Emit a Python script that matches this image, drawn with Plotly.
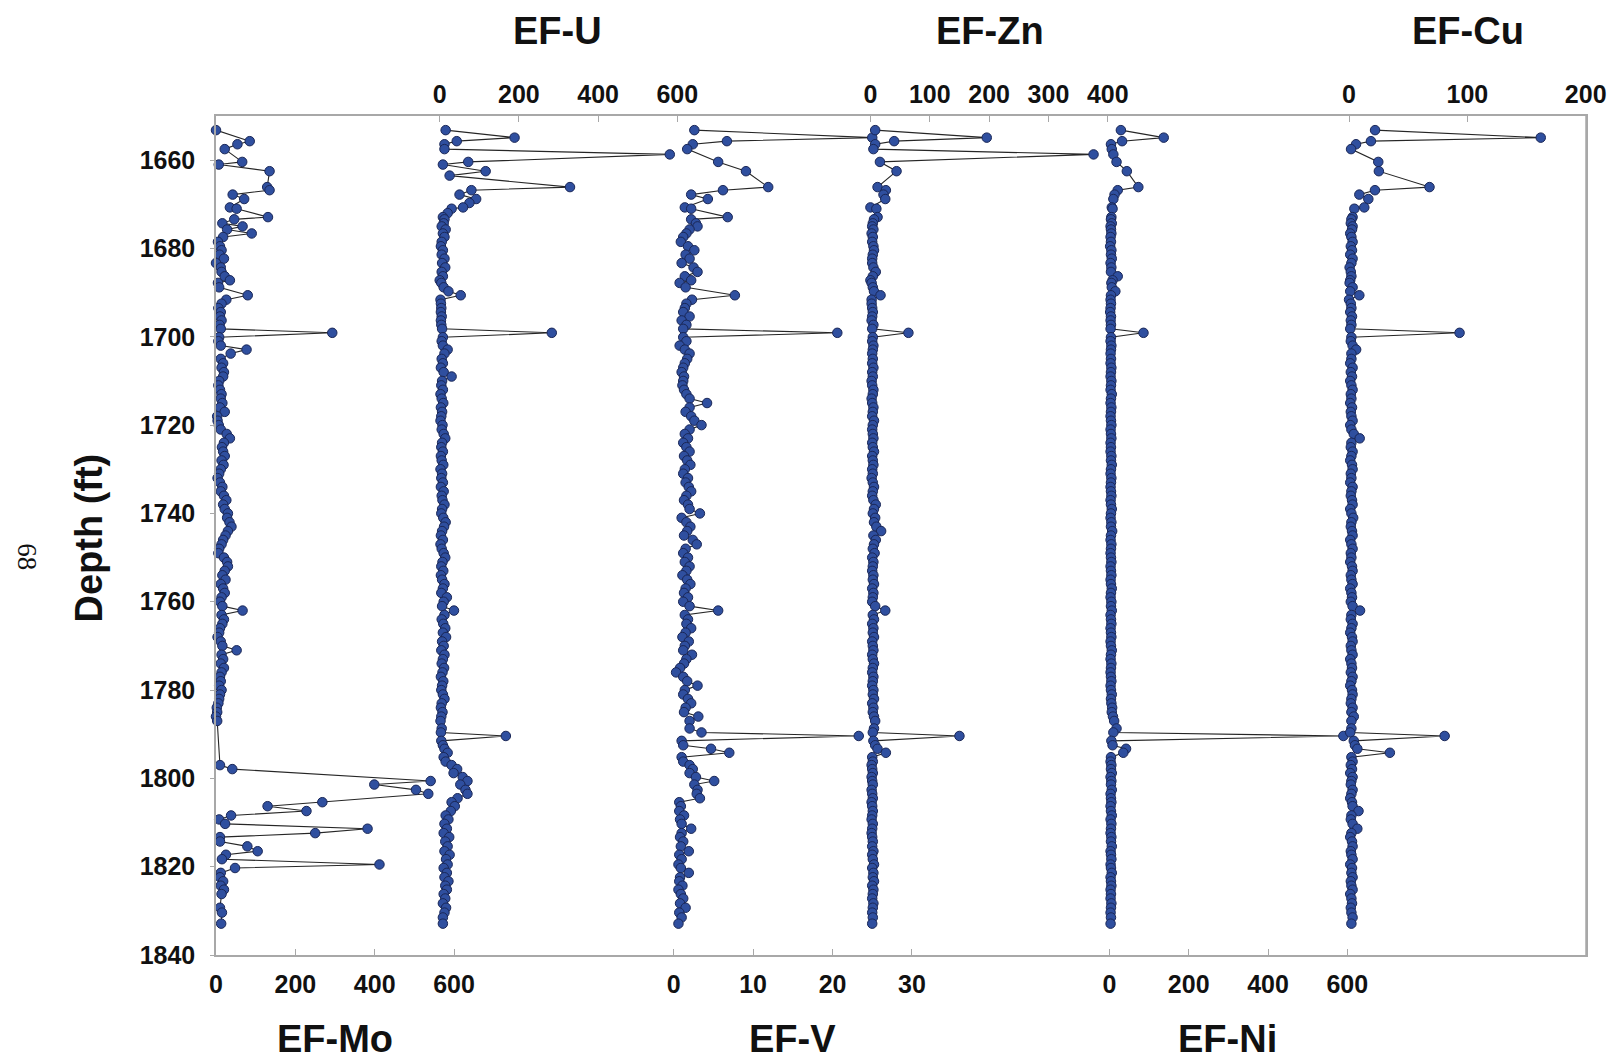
import plotly.graph_objects as go

# ---------------- data ----------------
depth_ft = [
    1653.2, 1654.9, 1655.7, 1656.4, 1657.5, 1658.7, 1660.4, 1661.0, 1662.5, 1663.5,
    1665.0, 1666.1, 1666.8, 1667.8, 1668.8, 1669.7, 1670.7, 1671.0, 1672.0, 1672.9,
    1673.4, 1674.3, 1675.0, 1675.7, 1676.6, 1677.4, 1678.5, 1679.5, 1680.4, 1681.4,
    1682.3, 1683.3, 1684.3, 1685.3, 1686.3, 1687.2, 1687.8, 1688.8, 1689.7, 1690.6,
    1691.6, 1692.5, 1693.5, 1694.4, 1695.4, 1696.3, 1697.3, 1698.2, 1699.1, 1700.1,
    1701.0, 1702.0, 1702.9, 1703.8,
    1705, 1706, 1707, 1708, 1709, 1710, 1711, 1712, 1713, 1714,
    1715, 1716, 1717, 1718, 1719, 1720, 1721, 1722, 1723, 1724,
    1725, 1726, 1727, 1728, 1729, 1730, 1731, 1732, 1733, 1734,
    1735, 1736, 1737, 1738, 1739, 1740, 1741, 1742, 1743, 1744,
    1745, 1746, 1747, 1748, 1749, 1750, 1751, 1752, 1753, 1754,
    1755, 1756, 1757, 1758, 1759, 1760, 1761, 1762, 1763, 1764,
    1765, 1766, 1767, 1768, 1769, 1770, 1771, 1772, 1773, 1774,
    1775, 1776, 1777, 1778, 1779, 1780, 1781, 1782, 1783, 1784,
    1785, 1786, 1787,
    1788.7, 1789.6, 1790.4, 1791.5, 1792.5, 1793.3, 1794.2, 1795.2, 1796.2, 1797.0,
    1797.9, 1798.8, 1799.7, 1800.6, 1801.4, 1802.6, 1803.5, 1804.5, 1805.4, 1806.3,
    1807.4, 1808.4, 1809.3, 1810.3, 1811.4, 1812.4, 1813.3, 1814.3, 1815.4, 1816.5,
    1817.3, 1818.3, 1819.5, 1820.3, 1821.4, 1822.4, 1823.3, 1824.3, 1825.2, 1826.2,
    1827.2, 1828.3, 1829.3, 1830.4, 1831.5, 1832.9,
]

ef_mo = [
    0, None, 85, 54, 22, None, 66, 7, 135, None,
    None, 129, 135, 42, 71, None, 35, 52, None, 131,
    46, 16, 67, 28, 90, 18, 5, 10, 14, 9,
    20, 0, 12, 14, 22, 35, 5, 8, None, 80,
    26, 14, 6, 12, 10, 14, 9, 12, 293, 8,
    6, 12, 77, 37,
    12, 18, 14, 20, 18, 8, 6, 10, 14, 12,
    16, 10, 22, 3, 4, 7, 12, 27, 35, 20,
    15, 18, 22, 14, 19, 12, 8, 4, 10, 16,
    12, 20, 26, 18, 22, 30, 28, 34, 39, 30,
    24, 18, 14, 8, 6, 20, 28, 30, 22, 16,
    24, 12, 18, 22, 14, 10, 16, 67, 14, 20,
    16, 10, 8, 4, 12, 16, 52, 14, 18, 12,
    20, 14, 10, 12, 8, 14, 10, 8, 6, 2,
    3, 0, 3,
    None, None, None, None, None, None, None, None, None, 10,
    41, None, None, 541, 399, 504, 535, None, 268, 130,
    228, 38, 8, 23, 382, 250, 10, 10, 79, 105,
    25, 15, 412, 48, 12, 10, 18, 12, 20, 14,
    None, None, 10, 15, None, 13,
]

ef_u = [
    15, 189, 43, 12, 12, 581, 72, 8, 116, 25,
    None, 329, 80, 50, 92, 75, 59, 30, 20, 8,
    12, 10, 5, 15, 8, 12, 5, 3, 8, 5,
    12, 6, 14, 5, 8, 0, 4, 10, 22, 53,
    2, 3, 4, 3, 5, 3, 4, 6, 283, 8,
    5, 8, 20, 12,
    5, 8, 3, 10, 30, 6, 4, 8, 2, 5,
    9, 3, 6, 4, 2, 7, 5, 10, 14, 6,
    4, 8, 3, 5, 9, 2, 6, 4, 8, 3,
    10, 5, 7, 12, 6, 4, 9, 15, 11, 6,
    3, 8, 2, 5, 10, 14, 7, 4, 9, 3,
    6, 12, 8, 4, 18, 10, 6, 36, 12, 5,
    9, 14, 8, 16, 6, 10, 4, 12, 8, 5,
    11, 7, 3, 9, 6, 4, 8, 12, 5, 3,
    7, 4, 2,
    5, 3, 167, 4, 8, 12, 20, 10, 15, 30,
    44, 35, 58, 70, 52, 65, 70, 45, 30, 38,
    28, 15, 22, 12, 18, 10, 24, 14, 20, 12,
    25, 16, 20, 10, 18, 12, 22, 14, 18, 10,
    14, 8, 16, 12, 8, 8,
]

ef_v = [
    2.6, 25.0, 6.7, 2.4, 1.7, None, 5.6, None, 9.1, None,
    None, 11.9, 6.2, 2.2, 4.3, None, 1.4, 2.2, None, 6.8,
    2.2, 2.8, 3.0, 2.0, 1.6, 1.2, 0.9, 1.8, 2.6, 1.5,
    2.0, 1.0, 2.5, 3.0, 1.4, 2.2, 0.75, 1.5, None, 7.7,
    2.3, 1.6, 1.4, 1.2, 2.0, 1.0, 1.6, 1.2, 20.6, 1.2,
    1.6, 0.75, 1.4, 2.0,
    1.7, 1.4, 1.2, 1.0, 1.3, 1.2, 1.1, 1.3, 1.6, 2.0,
    4.2, 2.0, 1.5, 2.2, 2.6, 3.5, 2.0, 1.4, 1.8, 1.2,
    1.6, 2.0, 1.3, 1.7, 2.1, 1.4, 1.2, 1.8, 1.5, 1.9,
    2.2, 1.6, 1.3, 1.8, 2.0, 3.3, 1.0, 1.6, 2.1, 1.7,
    1.3, 2.4, 2.9, 1.5, 1.2, 1.8, 1.4, 2.0, 1.6, 1.1,
    1.7, 2.1, 1.5, 1.3, 1.8, 1.2, 2.0, 5.6, 1.4, 1.8,
    1.6, 2.2, 1.5, 1.1, 1.9, 1.4, 1.2, 2.3, 1.6, 1.3,
    0.8, 0.3, 1.2, 1.7, 3.0, 1.4, 1.2, 1.8, 2.2, 1.5,
    1.3, 3.1, 2.0,
    2.0, 3.5, 23.3, 1.0, 1.2, 4.7, 7.0, 1.0, 1.2, 2.0,
    2.4, 2.0, 2.8, 5.1, 2.6, 3.0, 2.9, 3.3, 0.7, 0.9,
    0.7, 1.3, 0.8, 1.0, 2.2, 1.0, 0.8, 1.2, 0.9, 1.9,
    0.7, 1.0, 0.6, 0.9, 1.9, 0.8, 0.7, 1.1, 0.6, 0.9,
    1.2, 0.8, 1.5, 0.7, 1.0, 0.6,
]

ef_zn = [
    8, 196, 40, 8, 5, 376, 16, None, 44, None,
    None, 12, 26, 22, 25, None, 0, 10, None, 12,
    6, 4, 3, 5, 2, 4, 3, 5, 6, 4,
    3, 3, 5, 9, 4, 0, 2, 4, 6, 17,
    2, 2, 3, 4, 3, 2, 5, 3, 64, 4,
    3, 5, 4, 3,
    4, 3, 5, 3, 4, 2, 3, 5, 4, 2,
    3, 5, 4, 3, 6, 4, 3, 4, 5, 3,
    4, 6, 3, 4, 5, 3, 4, 2, 4, 6,
    4, 3, 5, 9, 6, 4, 8, 6, 10, 18,
    5, 9, 6, 4, 7, 3, 5, 4, 3, 5,
    4, 6, 3, 5, 4, 3, 8, 25, 4, 6,
    3, 5, 4, 6, 3, 4, 5, 3, 4, 6,
    4, 3, 5, 4, 3, 5, 4, 6, 3, 5,
    4, 6, 8,
    6, 4, 150, 5, 8, 12, 26, 3, 4, 2,
    3, 4, 2, 3, 4, 2, 3, 4, 2, 3,
    4, 3, 2, 4, 3, 2, 3, 4, 3, 5,
    3, 4, 6, 3, 5, 4, 6, 3, 5, 4,
    3, 5, 4, 3, 4, 3,
]

ef_ni = [
    29, 137, 32, 4, 6, 10, 18, None, 44, None,
    None, 73, 21, 13, 10, None, 6, 8, None, 5,
    4, 6, 3, 4, 5, 3, 4, 2, 5, 4,
    6, 3, 5, 4, 21, 8, 5, 6, 15, 4,
    3, 4, 3, 2, 4, 3, 4, 3, 86, 4,
    3, 5, 4, 3,
    4, 3, 5, 4, 3, 5, 4, 3, 6, 4,
    3, 5, 4, 3, 4, 5, 3, 4, 5, 3,
    4, 3, 5, 4, 6, 4, 3, 5, 4, 3,
    4, 5, 3, 4, 6, 4, 3, 5, 4, 7,
    4, 3, 5, 4, 3, 4, 5, 3, 4, 5,
    3, 4, 6, 4, 3, 5, 4, 6, 3, 4,
    5, 3, 4, 5, 3, 4, 6, 4, 3, 5,
    4, 3, 4, 5, 3, 4, 6, 4, 5, 7,
    6, 9, 12,
    18, 10, 590, 5, 8, 42, 35, 4, 3, 5,
    4, 6, 3, 5, 4, 6, 3, 4, 5, 3,
    4, 6, 3, 5, 4, 3, 5, 4, 6, 3,
    4, 5, 3, 4, 6, 3, 4, 5, 3, 4,
    3, 5, 4, 3, 4, 3,
]

ef_cu = [
    22, 162, 18.5, 5.9, 1.7, None, 24.7, None, 25.2, None,
    None, 68, 21.9, 8.7, 16.3, None, 12.9, 4.5, None, 3,
    2, 1.5, 3, 2.5, 1, 2, 3, 1.5, 2.5, 1,
    3, 2, 0.5, 1.5, 2, 1, 0.5, 3, 1, 8.7,
    0, 1.5, 2, 1, 2.5, 1.5, 2, 1, 93.4, 2,
    1.5, 3, 6, 2,
    2, 1, 3, 1.5, 2.5, 1, 2, 3, 1.5, 2,
    1, 2.5, 1.5, 2, 3, 1, 2, 4, 9, 2,
    1.5, 3, 2, 1, 2.5, 3, 1.5, 2, 1, 3,
    2, 1.5, 2.5, 3, 1, 2, 3.5, 2, 1.5, 2.5,
    3, 1, 2, 3, 1.5, 2, 1, 2.5, 3, 1.5,
    2, 3, 1, 2, 2.5, 1.5, 3, 9.3, 2, 1.5,
    3, 2, 1, 2.5, 3, 1.5, 2, 3, 1, 2,
    2.5, 1.5, 3, 2, 1, 2.5, 3, 2, 1.5, 3,
    2, 4, 2,
    2, 1, 80.8, 4, 5, 7, 34.5, 2, 3, 1.5,
    2.5, 1, 3, 2, 1.5, 3, 2, 1, 2.5, 3,
    8, 2, 1.5, 3, 7, 2, 1, 2.5, 3, 1.5,
    2, 3, 1, 2.5, 2, 3, 1.5, 2, 3, 1,
    2, 2.5, 1.5, 2, 3, 2,
]

depth_ticks = [1660, 1680, 1700, 1720, 1740, 1760, 1780, 1800, 1820, 1840]

# ---------------- layout geometry ----------------
FIG_W, FIG_H = 1619, 1062
PLOT_L, PLOT_R, PLOT_T, PLOT_B = 216, 1592, 116, 955
PLOT_W = PLOT_R - PLOT_L
PLOT_H = PLOT_B - PLOT_T

# Each log track: (name, series, tick labels, pixel of zero, pixels per unit, side)
tracks = [
    ("EF-Mo", ef_mo, [0, 200, 400, 600], 216.0, 0.3985, "bottom"),
    ("EF-U", ef_u, [0, 200, 400, 600], 440.7, 0.3977, "top"),
    ("EF-V", ef_v, [0, 10, 20, 30], 675.7, 7.977, "bottom"),
    ("EF-Zn", ef_zn, [0, 100, 200, 300, 400], 873.3, 0.596, "top"),
    ("EF-Ni", ef_ni, [0, 200, 400, 600], 1113.3, 0.3983, "bottom"),
    ("EF-Cu", ef_cu, [0, 100, 200], 1354.0, 1.1885, "top"),
]

AXIS_GREY = "#a8a8a8"
MARKER_FILL = "#2f4f9f"
MARKER_EDGE = "#1a2757"
LABEL_FONT = dict(family="Liberation Sans, Arial, sans-serif", size=25, color="#111111")

fig = go.Figure()
layout_axes = {}

for i, (name, vals, ticks, zero_px, px_per_unit, side) in enumerate(tracks):
    axis_id = "x" if i == 0 else f"x{i + 1}"
    layout_key = "xaxis" if i == 0 else f"xaxis{i + 1}"
    fig.add_trace(go.Scatter(
        x=vals, y=depth_ft, name=name,
        mode="lines+markers", connectgaps=True,
        xaxis=axis_id, yaxis="y",
        line=dict(color="#262626", width=1.1),
        marker=dict(symbol="circle", size=9.5, color=MARKER_FILL,
                    line=dict(color=MARKER_EDGE, width=1)),
        showlegend=False, cliponaxis=False,
    ))
    lo = (PLOT_L - zero_px) / px_per_unit
    hi = (PLOT_R - zero_px) / px_per_unit
    ax = dict(
        range=[lo, hi], side=side, domain=[0, 1],
        tickmode="array", tickvals=ticks, ticktext=[f"<b>{t}</b>" for t in ticks],
        ticks="inside", ticklen=6, tickcolor=AXIS_GREY, tickwidth=1,
        showline=True, linecolor=AXIS_GREY, linewidth=1.5,
        showgrid=False, zeroline=False,
        tickfont=LABEL_FONT, ticklabelstandoff=6 if side == "bottom" else 1,
        fixedrange=True,
    )
    if i > 0:
        ax["overlaying"] = "x"
        ax["anchor"] = "y"
    layout_axes[layout_key] = ax

fig.update_layout(**layout_axes)

fig.update_layout(
    width=FIG_W, height=FIG_H,
    margin=dict(l=PLOT_L, r=FIG_W - PLOT_R, t=PLOT_T, b=FIG_H - PLOT_B, pad=0),
    paper_bgcolor="white", plot_bgcolor="white",
    yaxis=dict(
        range=[1840, 1650], domain=[0, 1],
        tickmode="array", tickvals=depth_ticks,
        ticktext=[f"<b>{t}</b>" for t in depth_ticks],
        ticks="outside", ticklen=4, tickcolor=AXIS_GREY,
        showline=True, linecolor=AXIS_GREY, linewidth=1.5, mirror=True,
        showgrid=False, zeroline=False,
        tickfont=LABEL_FONT, ticklabelstandoff=10,
        fixedrange=True,
    ),
)

# Frame on the right side of the plot
fig.add_shape(type="line", xref="paper", yref="paper", x0=1, x1=1, y0=0, y1=1,
              line=dict(color=AXIS_GREY, width=1.5))


def px_to_paper(px, py):
    return (px - PLOT_L) / PLOT_W, 1 - (py - PLOT_T) / PLOT_H


TITLE_FONT = dict(family="Liberation Sans, Arial, sans-serif", size=38, color="#111111")

# Track titles above the plot (centered on their label row)
for label, px in (("EF-U", 559), ("EF-Zn", 993), ("EF-Cu", 1473)):
    xp, yp = px_to_paper(px, 31)
    fig.add_annotation(text=f"<b>{label}</b>", x=xp, y=yp, xref="paper", yref="paper",
                       showarrow=False, font=TITLE_FONT, xanchor="center", yanchor="middle",
                       borderpad=0)

# Track titles below the plot, anchored to the bottom edge of the page
for label, px in (("EF-Mo", 336), ("EF-V", 795), ("EF-Ni", 1232)):
    xp, yp = px_to_paper(px, 1061)
    fig.add_annotation(text=f"<b>{label}</b>", x=xp, y=yp, xref="paper", yref="paper",
                       showarrow=False, font=TITLE_FONT, xanchor="center", yanchor="bottom",
                       borderpad=0)

xp, yp = px_to_paper(88, 538)
fig.add_annotation(text="<b>Depth (ft)</b>", x=xp, y=yp, xref="paper", yref="paper",
                   showarrow=False, font=TITLE_FONT, textangle=-90,
                   xanchor="center", yanchor="middle")

xp, yp = px_to_paper(26, 557)
fig.add_annotation(text="68", x=xp, y=yp, xref="paper", yref="paper",
                   showarrow=False, textangle=90,
                   font=dict(family="Liberation Serif, Times New Roman, serif", size=27, color="#111111"),
                   xanchor="center", yanchor="middle")

fig.write_html("out.html")
